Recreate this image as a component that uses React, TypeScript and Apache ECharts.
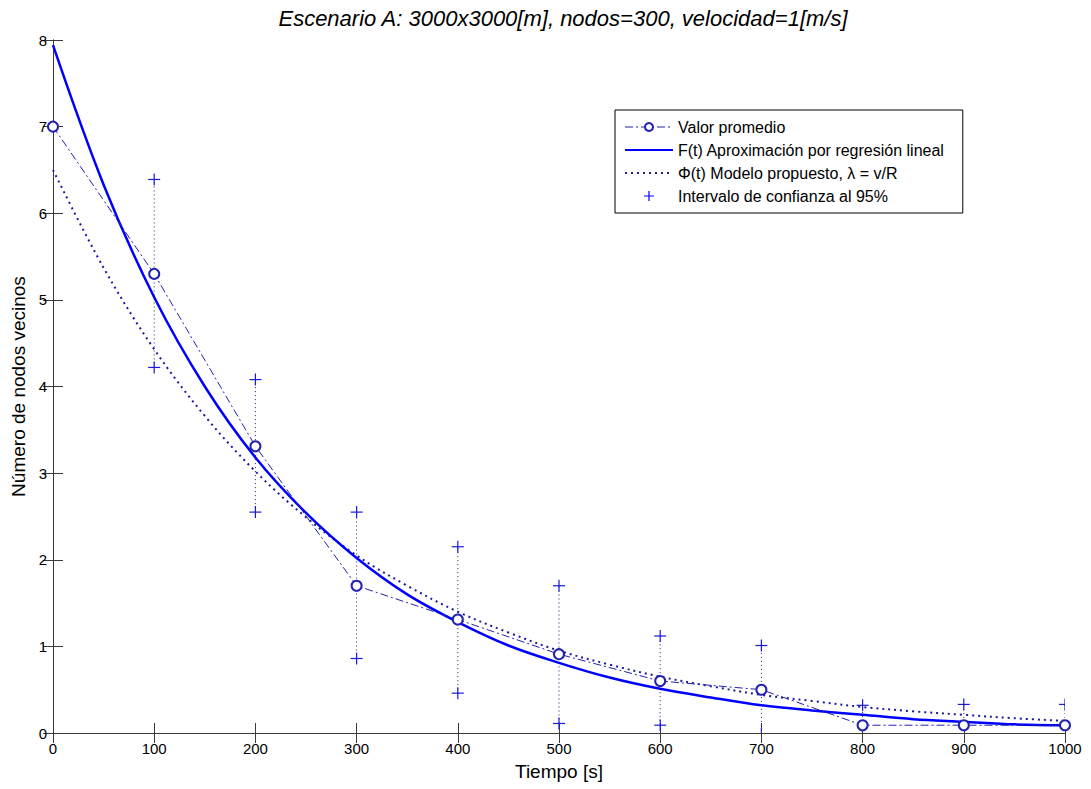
import React, { useEffect, useRef } from "react";
import * as echarts from "echarts";

// ---- Data ----
const sampleTimes = [0, 100, 200, 300, 400, 500, 600, 700, 800, 900, 1000];
const meanValues = [7.0, 5.3, 3.31, 1.7, 1.31, 0.91, 0.6, 0.5, 0.09, 0.09, 0.09];
const ciUpper = [7.0, 6.39, 4.08, 2.55, 2.15, 1.7, 1.12, 1.01, 0.32, 0.33, 0.33];
const ciLower = [7.0, 4.22, 2.55, 0.86, 0.46, 0.11, 0.09, -0.01, -0.14, -0.15, -0.15];

const curveTimes = [0, 50, 100, 150, 200, 250, 300, 350, 400, 450, 500, 550, 600, 650, 700, 750, 800, 850, 900, 950, 1000];
const fitValues = [7.94, 6.33, 5.03, 4.0, 3.18, 2.54, 2.02, 1.6, 1.28, 1.01, 0.81, 0.64, 0.51, 0.41, 0.32, 0.26, 0.21, 0.16, 0.13, 0.1, 0.09];
const modelValues = [6.5, 5.37, 4.43, 3.66, 3.02, 2.49, 2.05, 1.7, 1.4, 1.16, 0.95, 0.79, 0.65, 0.54, 0.44, 0.37, 0.3, 0.25, 0.21, 0.17, 0.14];

const xTickMin = 0;
const xTickMax = 1000;
const xTickStep = 100;
const yTickMin = 0;
const yTickMax = 8;
const yTickStep = 1;

const seriesNames = [
  "Valor promedio",
  "F(t) Aproximación por regresión lineal",
  "Φ(t) Modelo propuesto, λ = v/R",
  "Intervalo de confianza al 95%",
];

const titleText = "Escenario A: 3000x3000[m], nodos=300, velocidad=1[m/s]";
const xName = "Tiempo [s]";
const yName = "Número de nodos vecinos";

const BLUE = "#0000ff";
const NAVY = "#2222b0";
const AXIS = "#3a3a3a";
const FONT = "'Liberation Sans', Arial, Helvetica, sans-serif";

export default function App() {
  const ref = useRef<HTMLDivElement>(null);

  useEffect(() => {
    document.body.style.margin = "0";
    const chart = echarts.init(ref.current!, null, { renderer: "svg" });

    const axisCommon = {
      type: "value" as const,
      axisLine: { show: true, lineStyle: { color: AXIS, width: 1 } },
      axisTick: { show: true, inside: true, length: 10, lineStyle: { color: AXIS } },
      splitLine: { show: false },
    };

    const option: any = {
      animation: false,
      backgroundColor: "#ffffff",
      textStyle: { fontFamily: FONT },
      title: {
        text: titleText,
        left: 558,
        textAlign: "center",
        top: 2,
        textStyle: { fontFamily: FONT, fontSize: 22, fontStyle: "italic", fontWeight: "normal", color: "#000" },
      },
      grid: { left: 53, right: 26, top: 40, bottom: 56, containLabel: false },
      legend: {
        orient: "vertical",
        left: 615,
        top: 110,
        backgroundColor: "#ffffff",
        borderColor: "#000",
        borderWidth: 1,
        borderRadius: 0,
        padding: [9, 18, 9, 9],
        itemGap: 7,
        itemWidth: 48,
        itemHeight: 10,
        textStyle: { fontFamily: FONT, fontSize: 16, color: "#000" },
        data: [
          { name: seriesNames[0], lineStyle: { width: 1 } },
          { name: seriesNames[1], itemStyle: { opacity: 0 } },
          { name: seriesNames[2], itemStyle: { opacity: 0 } },
          {
            name: seriesNames[3],
            icon: "path://M4.4,0H5.6V10H4.4Z M0,4.4H10V5.6H0Z",
          },
        ],
      },
      xAxis: [
        {
          ...axisCommon,
          position: "bottom",
          min: xTickMin,
          max: xTickMax,
          interval: xTickStep,
          axisLabel: {
            show: true,
            fontFamily: FONT,
            fontSize: 15,
            color: "#000",
            margin: 8,
            formatter: (v: number) => String(v),
          },
          name: xName,
          nameLocation: "middle",
          nameGap: 29,
          nameTextStyle: { fontFamily: FONT, fontSize: 19, color: "#000" },
        },
        {
          ...axisCommon,
          position: "top",
          min: xTickMin,
          max: xTickMax,
          interval: xTickStep,
          axisLabel: { show: false },
        },
      ],
      yAxis: [
        {
          ...axisCommon,
          position: "left",
          min: yTickMin,
          max: yTickMax,
          interval: yTickStep,
          axisLabel: { show: true, fontFamily: FONT, fontSize: 15, color: "#000", margin: 6 },
          name: yName,
          nameLocation: "middle",
          nameGap: 24,
          nameTextStyle: { fontFamily: FONT, fontSize: 19, color: "#000" },
        },
        {
          ...axisCommon,
          position: "right",
          min: yTickMin,
          max: yTickMax,
          interval: yTickStep,
          axisLabel: { show: false },
        },
      ],
      series: [
        {
          name: seriesNames[3],
          type: "custom",
          xAxisIndex: 0,
          yAxisIndex: 0,
          clip: true,
          itemStyle: { color: BLUE },
          encode: { x: 0, y: [1, 2] },
          data: sampleTimes.map((t, i) => [t, ciLower[i], ciUpper[i]]),
          renderItem: (params: any, api: any) => {
            const x = api.value(0);
            const lo = api.coord([x, api.value(1)]);
            const hi = api.coord([x, api.value(2)]);
            const h = 6;
            const st = { stroke: "#1a1ad8", lineWidth: 1.2 };
            return {
              type: "group",
              children: [
                {
                  type: "line",
                  shape: { x1: lo[0], y1: lo[1], x2: hi[0], y2: hi[1] },
                  style: { stroke: "#202070", lineWidth: 1, lineDash: [1, 3] },
                },
                { type: "line", shape: { x1: lo[0] - h, y1: lo[1], x2: lo[0] + h, y2: lo[1] }, style: st },
                { type: "line", shape: { x1: lo[0], y1: lo[1] - h, x2: lo[0], y2: lo[1] + h }, style: st },
                { type: "line", shape: { x1: hi[0] - h, y1: hi[1], x2: hi[0] + h, y2: hi[1] }, style: st },
                { type: "line", shape: { x1: hi[0], y1: hi[1] - h, x2: hi[0], y2: hi[1] + h }, style: st },
              ],
            };
          },
          z: 2,
        },
        {
          name: seriesNames[2],
          type: "line",
          smooth: 0.35,
          symbol: "none",
          showSymbol: false,
          data: curveTimes.map((t, i) => [t, modelValues[i]]),
          lineStyle: { color: "#1a1aa0", width: 2, type: [2, 4] },
          itemStyle: { color: "#1a1aa0" },
          z: 3,
        },
        {
          name: seriesNames[1],
          type: "line",
          smooth: 0.35,
          symbol: "none",
          showSymbol: false,
          data: curveTimes.map((t, i) => [t, fitValues[i]]),
          lineStyle: { color: BLUE, width: 2.5, type: "solid" },
          itemStyle: { color: BLUE },
          z: 4,
        },
        {
          name: seriesNames[0],
          type: "line",
          symbol: "emptyCircle",
          symbolSize: 10,
          showSymbol: true,
          data: sampleTimes.map((t, i) => [t, meanValues[i]]),
          lineStyle: { color: NAVY, width: 1, type: [8, 3, 2, 3] },
          itemStyle: { color: NAVY, borderWidth: 1 },
          z: 5,
        },
      ],
    };

    chart.setOption(option);
    return () => chart.dispose();
  }, []);

  return <div ref={ref} style={{ width: 1091, height: 789 }} />;
}
